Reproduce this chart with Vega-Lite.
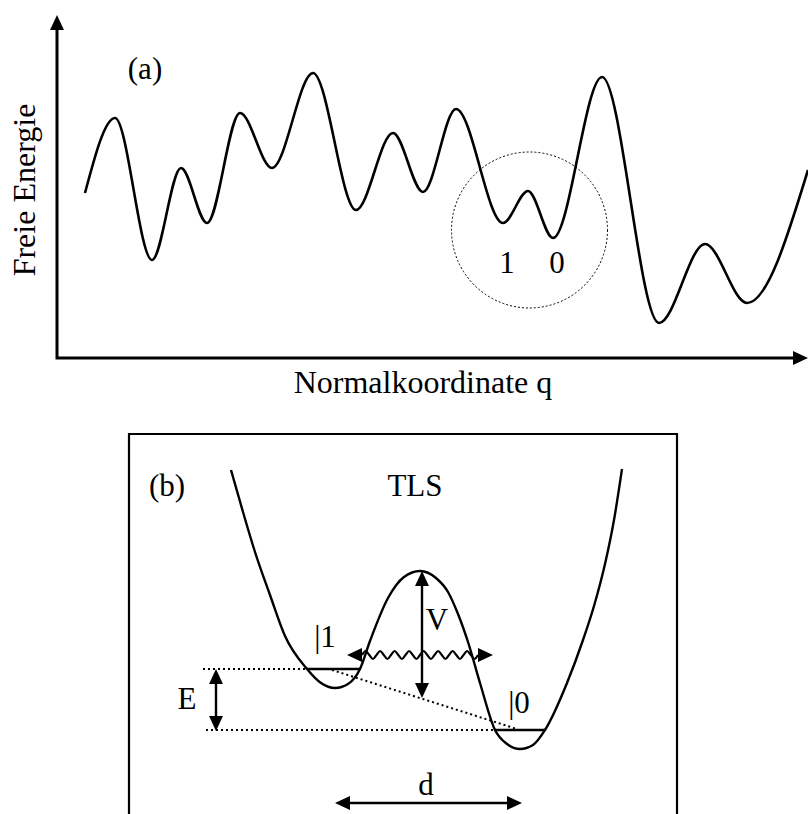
{
  "$schema": "https://vega.github.io/schema/vega-lite/v6.json",
  "width": 808,
  "height": 814,
  "padding": 0,
  "autosize": {"type": "none"},
  "background": "white",
  "config": {"view": {"stroke": null}},
  "datasets": {
    "curveA": [
      {"x": 85, "y": 193}, {"x": 115, "y": 118}, {"x": 152, "y": 260}, {"x": 181, "y": 168},
      {"x": 207, "y": 223}, {"x": 240, "y": 113}, {"x": 272, "y": 168}, {"x": 313, "y": 73},
      {"x": 356, "y": 210}, {"x": 393, "y": 133}, {"x": 423, "y": 192}, {"x": 456, "y": 109},
      {"x": 503, "y": 223}, {"x": 528, "y": 191}, {"x": 553, "y": 238}, {"x": 602, "y": 77},
      {"x": 659, "y": 323}, {"x": 705, "y": 244}, {"x": 747, "y": 303}, {"x": 808, "y": 170}
    ],
    "curveB": [
      {"x": 231, "y": 470}, {"x": 243, "y": 512}, {"x": 255, "y": 552}, {"x": 270, "y": 595},
      {"x": 285, "y": 636}, {"x": 307, "y": 669}, {"x": 321, "y": 683}, {"x": 335, "y": 688},
      {"x": 348, "y": 684}, {"x": 360, "y": 669}, {"x": 370, "y": 641}, {"x": 388, "y": 598},
      {"x": 404, "y": 577}, {"x": 420, "y": 571}, {"x": 436, "y": 578}, {"x": 448, "y": 592},
      {"x": 458, "y": 614}, {"x": 468, "y": 642}, {"x": 480, "y": 683}, {"x": 495, "y": 730},
      {"x": 507, "y": 744}, {"x": 520, "y": 749}, {"x": 533, "y": 745}, {"x": 545, "y": 730},
      {"x": 567, "y": 683}, {"x": 583, "y": 640}, {"x": 594, "y": 606}, {"x": 605, "y": 564},
      {"x": 614, "y": 520}, {"x": 622, "y": 469}
    ],
    "wave": [
      {"x": 362, "y": 655}, {"x": 365.6, "y": 651}, {"x": 369.3, "y": 655}, {"x": 372.9, "y": 659},
      {"x": 376.5, "y": 655}, {"x": 380.1, "y": 651}, {"x": 383.8, "y": 655}, {"x": 387.4, "y": 659},
      {"x": 391, "y": 655}, {"x": 394.6, "y": 651}, {"x": 398.3, "y": 655}, {"x": 401.9, "y": 659},
      {"x": 405.5, "y": 655}, {"x": 409.1, "y": 651}, {"x": 412.8, "y": 655}, {"x": 416.4, "y": 659},
      {"x": 420, "y": 655}, {"x": 423.6, "y": 651}, {"x": 427.3, "y": 655}, {"x": 430.9, "y": 659},
      {"x": 434.5, "y": 655}, {"x": 438.1, "y": 651}, {"x": 441.8, "y": 655}, {"x": 445.4, "y": 659},
      {"x": 449, "y": 655}, {"x": 452.6, "y": 651}, {"x": 456.3, "y": 655}, {"x": 459.9, "y": 659},
      {"x": 463.5, "y": 655}, {"x": 467.1, "y": 651}, {"x": 470.8, "y": 655}, {"x": 474.4, "y": 659},
      {"x": 478, "y": 655}
    ],
    "axes": [
      {"i": 0, "x": 57, "y": 22.5}, {"i": 1, "x": 57, "y": 358}, {"i": 2, "x": 800.5, "y": 358}
    ],
    "frame": [
      {"i": 0, "x": 129, "y": 814}, {"i": 1, "x": 129, "y": 434},
      {"i": 2, "x": 677, "y": 434}, {"i": 3, "x": 677, "y": 814}
    ],
    "segs": [
      {"g": "level1", "i": 0, "x": 307, "y": 669}, {"g": "level1", "i": 1, "x": 360, "y": 669},
      {"g": "level0", "i": 0, "x": 495, "y": 730}, {"g": "level0", "i": 1, "x": 545, "y": 730},
      {"g": "E", "i": 0, "x": 216, "y": 676.5}, {"g": "E", "i": 1, "x": 216, "y": 723.5},
      {"g": "V", "i": 0, "x": 422, "y": 578.5}, {"g": "V", "i": 1, "x": 422, "y": 690.5},
      {"g": "d", "i": 0, "x": 342.5, "y": 803}, {"g": "d", "i": 1, "x": 514.5, "y": 803}
    ],
    "dots": [
      {"g": "upper", "i": 0, "x": 203, "y": 669}, {"g": "upper", "i": 1, "x": 307, "y": 669},
      {"g": "lower", "i": 0, "x": 206, "y": 730}, {"g": "lower", "i": 1, "x": 495, "y": 730},
      {"g": "diag", "i": 0, "x": 332, "y": 670}, {"g": "diag", "i": 1, "x": 517, "y": 729}
    ],
    "heads": [
      {"dir": "up", "x": 57, "y": 22.5},
      {"dir": "right", "x": 800.5, "y": 358},
      {"dir": "up", "x": 216, "y": 676.5},
      {"dir": "down", "x": 216, "y": 723.5},
      {"dir": "up", "x": 422, "y": 578.5},
      {"dir": "down", "x": 422, "y": 690.5},
      {"dir": "left", "x": 354.5, "y": 655},
      {"dir": "right", "x": 485.5, "y": 655},
      {"dir": "left", "x": 342.5, "y": 803},
      {"dir": "right", "x": 514.5, "y": 803}
    ],
    "circle": [{"x": 529.5, "y": 230}],
    "labels": [
      {"t": "(a)", "x": 145, "y": 79},
      {"t": "1", "x": 507, "y": 273},
      {"t": "0", "x": 557, "y": 273},
      {"t": "(b)", "x": 167, "y": 496},
      {"t": "TLS", "x": 415, "y": 496},
      {"t": "V", "x": 437, "y": 630},
      {"t": "|1", "x": 325, "y": 647},
      {"t": "|0", "x": 519, "y": 713},
      {"t": "E", "x": 187, "y": 709},
      {"t": "d", "x": 426, "y": 795}
    ],
    "xlabel": [{"t": "Normalkoordinate q", "x": 423, "y": 393}],
    "ylabel": [{"t": "Freie Energie", "x": 35, "y": 190}]
  },
  "encoding": {
    "x": {"field": "x", "type": "quantitative", "scale": {"domain": [0, 808], "nice": false, "zero": false}, "axis": null},
    "y": {"field": "y", "type": "quantitative", "scale": {"domain": [0, 814], "nice": false, "zero": false, "reverse": true}, "axis": null}
  },
  "layer": [
    {
      "data": {"name": "curveA"},
      "mark": {"type": "line", "interpolate": "monotone", "color": "black", "strokeWidth": 2.6}
    },
    {
      "data": {"name": "axes"},
      "mark": {"type": "line", "color": "black", "strokeWidth": 3, "strokeJoin": "miter"},
      "encoding": {"order": {"field": "i", "type": "quantitative"}}
    },
    {
      "data": {"name": "circle"},
      "mark": {"type": "point", "shape": "circle", "size": 24336, "filled": false, "stroke": "black", "strokeWidth": 1, "strokeDash": [2, 2], "opacity": 1}
    },
    {
      "data": {"name": "frame"},
      "mark": {"type": "line", "color": "black", "strokeWidth": 2.2, "strokeJoin": "miter"},
      "encoding": {"order": {"field": "i", "type": "quantitative"}}
    },
    {
      "data": {"name": "dots"},
      "mark": {"type": "line", "color": "black", "strokeWidth": 2, "strokeDash": [2, 3]},
      "encoding": {"detail": {"field": "g"}, "order": {"field": "i", "type": "quantitative"}}
    },
    {
      "data": {"name": "curveB"},
      "mark": {"type": "line", "interpolate": "monotone", "color": "black", "strokeWidth": 2.4}
    },
    {
      "data": {"name": "segs"},
      "mark": {"type": "line", "color": "black", "strokeWidth": 2.4},
      "encoding": {"detail": {"field": "g"}, "order": {"field": "i", "type": "quantitative"}}
    },
    {
      "data": {"name": "wave"},
      "mark": {"type": "line", "interpolate": "monotone", "color": "black", "strokeWidth": 2.2}
    },
    {
      "data": {"name": "heads"},
      "mark": {"type": "point", "filled": true, "color": "black", "size": 225, "opacity": 1},
      "encoding": {
        "shape": {
          "field": "dir", "type": "nominal", "legend": null,
          "scale": {
            "domain": ["up", "down", "left", "right"],
            "range": ["M0,-1L0.93,1L-0.93,1Z", "M0,1L0.93,-1L-0.93,-1Z", "M-1,0L1,-0.93L1,0.93Z", "M1,0L-1,-0.93L-1,0.93Z"]
          }
        }
      }
    },
    {
      "data": {"name": "labels"},
      "mark": {"type": "text", "font": "Liberation Serif", "fontSize": 31, "align": "center", "baseline": "alphabetic", "color": "black"},
      "encoding": {"text": {"field": "t"}}
    },
    {
      "data": {"name": "xlabel"},
      "mark": {"type": "text", "font": "Liberation Serif", "fontSize": 32, "align": "center", "baseline": "alphabetic", "color": "black"},
      "encoding": {"text": {"field": "t"}}
    },
    {
      "data": {"name": "ylabel"},
      "mark": {"type": "text", "font": "Liberation Serif", "fontSize": 32, "align": "center", "baseline": "alphabetic", "angle": 270, "color": "black"},
      "encoding": {"text": {"field": "t"}}
    }
  ]
}
